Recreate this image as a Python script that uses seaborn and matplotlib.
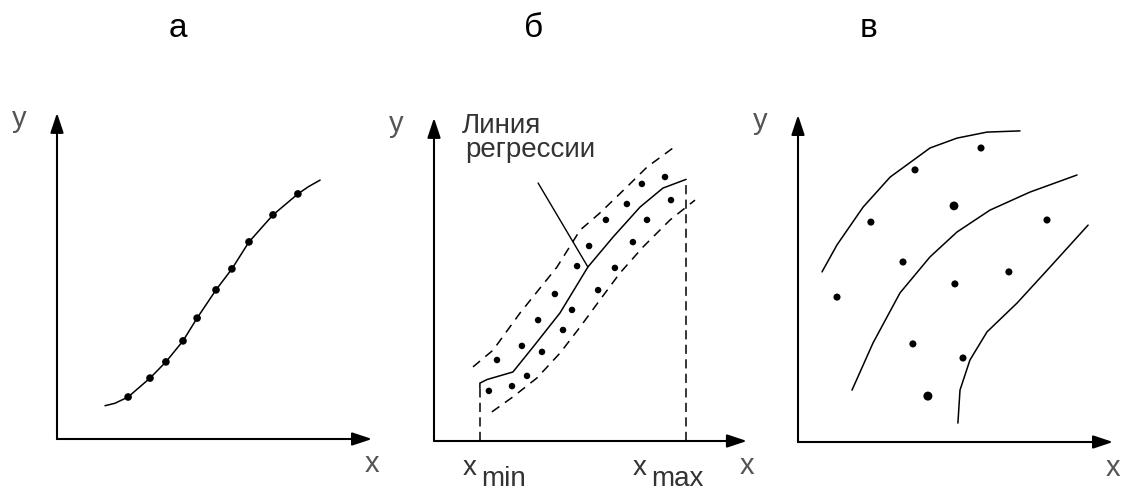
import matplotlib
matplotlib.use('Agg')
import matplotlib.pyplot as plt
import seaborn as sns

# panel titles
titles = ['а', 'б', 'в']

# --- panel a: functional dependence (points lie on the curve)
a_curve_x = [1.60, 1.93, 2.37, 3.10, 3.63, 4.20, 4.67, 5.30, 5.83, 6.40, 7.20, 8.03, 8.38, 8.77]
a_curve_y = [1.11, 1.19, 1.40, 2.03, 2.57, 3.27, 4.03, 4.97, 5.67, 6.57, 7.47, 8.17, 8.41, 8.63]
a_pts_x = [2.37, 3.10, 3.63, 4.20, 4.67, 5.30, 5.83, 6.40, 7.20, 8.03]
a_pts_y = [1.40, 2.03, 2.57, 3.27, 4.03, 4.97, 5.67, 6.57, 7.47, 8.17]

# --- panel b: regression line with confidence band
b_reg_x = [1.53, 1.53, 1.77, 2.63, 3.30, 4.20, 5.13, 5.97, 6.87, 7.63, 8.40]
b_reg_y = [1.77, 1.93, 2.05, 2.30, 3.13, 4.27, 5.80, 6.80, 7.80, 8.43, 8.72]
b_up_x = [1.30, 1.97, 2.87, 4.10, 4.87, 5.53, 6.43, 7.10, 7.97]
b_up_y = [2.47, 3.03, 4.27, 5.80, 7.03, 7.60, 8.47, 9.13, 9.77]
b_lo_x = [1.93, 2.63, 3.43, 4.20, 4.87, 5.53, 6.20, 6.97, 7.87, 8.70]
b_lo_y = [0.97, 1.47, 2.10, 2.93, 3.80, 4.70, 5.60, 6.47, 7.37, 8.03]
b_pts_x = [2.10, 2.93, 3.47, 4.03, 4.77, 5.17, 5.73, 6.43, 6.93, 7.70,
           1.83, 2.60, 3.10, 3.60, 4.30, 4.60, 5.47, 6.03, 6.63, 7.10, 7.90]
b_pts_y = [2.70, 3.17, 4.03, 4.90, 5.83, 6.50, 7.37, 7.90, 8.57, 8.80,
           1.67, 1.83, 2.17, 2.97, 3.70, 4.37, 5.03, 5.77, 6.63, 7.37, 8.03]
b_leader_x = [3.47, 5.13]
b_leader_y = [8.60, 5.80]

# --- panel c: family of curves
c_top_x = [0.80, 1.30, 2.17, 3.07, 4.40, 5.30, 6.30, 7.40]
c_top_y = [5.67, 6.57, 7.83, 8.83, 9.80, 10.13, 10.33, 10.37]
c_mid_x = [1.80, 2.50, 3.40, 4.40, 5.30, 6.40, 7.73, 9.30]
c_mid_y = [1.73, 3.30, 4.97, 6.17, 7.00, 7.73, 8.33, 8.90]
c_low_x = [5.33, 5.40, 5.73, 6.30, 7.30, 8.40, 9.67]
c_low_y = [0.63, 1.73, 2.73, 3.67, 4.63, 5.83, 7.23]
c_pts_x = [6.10, 3.90, 5.20, 2.43, 8.30, 3.50, 1.30, 5.23, 7.03, 3.83, 5.50, 4.33]
c_pts_y = [9.80, 9.07, 7.87, 7.33, 7.40, 6.00, 4.83, 5.27, 5.67, 3.27, 2.80, 1.53]
c_pts_s = [26, 26, 40, 26, 26, 26, 26, 26, 26, 26, 26, 42]

W, H = 1126, 491
sns.set_style('white')
plt.rcParams['font.family'] = ['Liberation Sans', 'DejaVu Sans']

fig = plt.figure(figsize=(W / 100, H / 100), dpi=100)


def make_panel(ox, oy, xtip, ytip):
    # 1 data unit = 30 px, origin of the drawn axes at pixel (ox, oy)
    ax = fig.add_axes([(ox - 60) / W, (H - (oy + 75)) / H, 405 / W, 480 / H])
    ax.set_xlim(-2, 11.5)
    ax.set_ylim(-2.5, 13.5)
    ax.axis('off')
    ax.patch.set_alpha(0)
    arrow = dict(arrowstyle='-|>,head_length=0.6,head_width=0.2', lw=1.5,
                 color='black', shrinkA=0, shrinkB=0, mutation_scale=20)
    ax.annotate('', xy=(xtip, 0), xytext=(0, 0), arrowprops=arrow)
    ax.annotate('', xy=(0, ytip), xytext=(0, 0), arrowprops=arrow)
    ax.text(-1.27, ytip - 0.2, 'y', fontsize=21, color='#555555', ha='center', va='center')
    ax.text(xtip, -0.85, 'x', fontsize=21, color='#555555', ha='center', va='center')
    return ax


dash = (0, (6, 4.5))

# panel a
ax1 = make_panel(57, 439, 10.5, 10.87)
sns.lineplot(x=a_curve_x, y=a_curve_y, sort=False, estimator=None, color='black', lw=1.1, ax=ax1)
sns.scatterplot(x=a_pts_x, y=a_pts_y, color='black', s=30, edgecolor='none', ax=ax1)

# panel b
ax2 = make_panel(434, 441, 10.43, 10.77)
sns.lineplot(x=b_reg_x, y=b_reg_y, sort=False, estimator=None, color='black', lw=1.1, ax=ax2)
sns.lineplot(x=b_up_x, y=b_up_y, sort=False, estimator=None, color='black', lw=1.1,
             linestyle=dash, ax=ax2)
sns.lineplot(x=b_lo_x, y=b_lo_y, sort=False, estimator=None, color='black', lw=1.1,
             linestyle=dash, ax=ax2)
ax2.vlines([b_reg_x[0], b_reg_x[-1]], 0, [b_reg_y[0], b_reg_y[-1]], colors='black',
           lw=1.1, linestyles=(0, (6, 3.5)))
sns.lineplot(x=b_leader_x, y=b_leader_y, sort=False, estimator=None, color='black', lw=1.0, ax=ax2)
sns.scatterplot(x=b_pts_x, y=b_pts_y, color='black', s=22, edgecolor='none', ax=ax2)
ax2.text(0.93, 10.27, 'Линия', fontsize=20, color='#333333', ha='left', va='baseline')
ax2.text(1.03, 9.47, 'регрессии', fontsize=20, color='#333333', ha='left', va='baseline')
ax2.text(0.97, -1.13, 'x', fontsize=20, color='#333333', ha='left', va='baseline')
ax2.text(1.57, -1.5, 'min', fontsize=20, color='#333333', ha='left', va='baseline')
ax2.text(6.63, -1.13, 'x', fontsize=20, color='#333333', ha='left', va='baseline')
ax2.text(7.23, -1.5, 'max', fontsize=20, color='#333333', ha='left', va='baseline')

# panel c
ax3 = make_panel(798, 442, 10.5, 10.9)
for cx, cy in [(c_top_x, c_top_y), (c_mid_x, c_mid_y), (c_low_x, c_low_y)]:
    sns.lineplot(x=cx, y=cy, sort=False, estimator=None, color='black', lw=1.1, ax=ax3)
sns.scatterplot(x=c_pts_x, y=c_pts_y, size=c_pts_s, sizes=(26, 42), color='black',
                edgecolor='none', legend=False, ax=ax3)

# titles
for t, px in zip(titles, [178, 534, 869]):
    fig.text(px / W, 1 - 37 / H, t, fontsize=24, ha='center', va='baseline', color='black')

fig.savefig('out.png', dpi=100)
